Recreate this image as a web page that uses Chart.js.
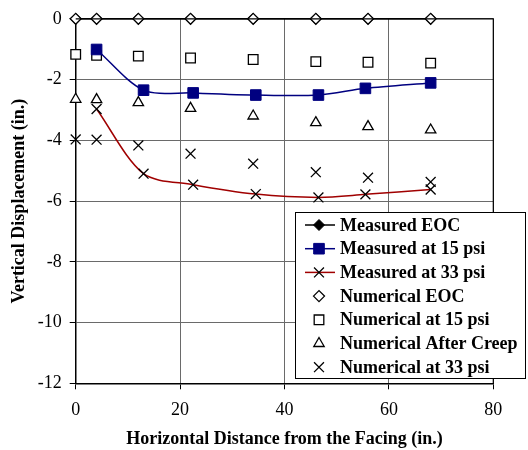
<!DOCTYPE html>
<html>
<head>
<meta charset="utf-8">
<script src="https://cdn.jsdelivr.net/npm/chart.js@4/dist/chart.umd.min.js"></script>
<style>
  html, body { margin: 0; padding: 0; background: #fff; }
  #wrap { width: 528px; height: 450px; position: relative; }
</style>
</head>
<body>
<div id="wrap"><canvas id="chart" width="528" height="450"></canvas></div>
<script>
// x positions (in.)
var numX = [0, 4, 12, 22, 34, 46, 56, 68];
var measX = [4, 13, 22.5, 34.5, 46.5, 55.5, 68];

// vertical displacement (in.)
var measEOC = [0, 0, 0, 0, 0, 0, 0, 0];
var meas15 = [-1.01, -2.35, -2.44, -2.51, -2.51, -2.29, -2.11];
var meas33 = [-2.97, -5.1, -5.46, -5.77, -5.88, -5.78, -5.62];
var numEOC = [0, 0, 0, 0, 0, 0, 0, 0];
var num15 = [-1.17, -1.2, -1.23, -1.29, -1.34, -1.41, -1.43, -1.46];
var numCreep = [-2.65, -2.66, -2.76, -2.95, -3.2, -3.42, -3.55, -3.66];
var num33 = [-3.97, -3.98, -4.17, -4.44, -4.77, -5.05, -5.23, -5.37];

var xTicks = [0, 20, 40, 60, 80];
var yTicks = [0, -2, -4, -6, -8, -10, -12];

var labels = ["Measured EOC", "Measured at 15 psi", "Measured at 33 psi",
  "Numerical EOC", "Numerical at 15 psi", "Numerical After Creep", "Numerical at 33 psi"];

function pts(xs, ys){
  var out = [];
  for (var i = 0; i < ys.length; i++) out.push({x: xs[i], y: ys[i]});
  return out;
}

Chart.defaults.font.family = "'Liberation Serif', 'Times New Roman', serif";
Chart.defaults.color = "#000";

// legend drawn in a box overlapping the plot (as in the original)
var boxLegend = {
  id: 'boxLegend',
  afterDraw: function(chart){
    var ctx = chart.ctx;
    var a = chart.chartArea;
    ctx.save();
    // plot frame
    ctx.strokeStyle = '#000';
    ctx.lineWidth = 1.2;
    ctx.beginPath();
    ctx.moveTo(a.left, a.top); ctx.lineTo(a.right, a.top); ctx.lineTo(a.right, a.bottom);
    ctx.stroke();

    var bx = 295, by = 212, bw = 230, bh = 166;
    ctx.fillStyle = '#fff';
    ctx.fillRect(bx, by, bw, bh);
    ctx.lineWidth = 1;
    ctx.strokeStyle = '#000';
    ctx.strokeRect(bx + 0.5, by + 0.5, bw, bh);

    var rowY = 225, step = 23.7;
    ctx.font = "bold 18px 'Liberation Serif', 'Times New Roman', serif";
    ctx.textBaseline = 'middle';
    chart.data.datasets.forEach(function(ds, i){
      var y = rowY + i * step;
      if (ds.showLine) {
        ctx.strokeStyle = ds.borderColor;
        ctx.lineWidth = 1.5;
        ctx.beginPath();
        ctx.moveTo(305, y);
        ctx.lineTo(335, y);
        ctx.stroke();
      }
      ctx.fillStyle = ds.pointBackgroundColor;
      ctx.strokeStyle = ds.pointBorderColor;
      ctx.lineWidth = ds.pointBorderWidth;
      Chart.helpers.drawPoint(ctx, {pointStyle: ds.pointStyle, radius: ds.pointRadius, borderWidth: ds.pointBorderWidth, rotation: 0}, 319, y);
      ctx.fillStyle = '#000';
      ctx.fillText(labels[i], 340, y + 1);
    });
    ctx.restore();
  }
};

new Chart(document.getElementById("chart"), {
  type: 'scatter',
  data: {
    datasets: [{
        label: labels[0],
        data: pts(numX, measEOC),
        showLine: true,
        borderColor: '#000',
        borderWidth: 1.5,
        pointStyle: 'rectRot',
        pointRadius: 5.5,
        pointBackgroundColor: '#000',
        pointBorderColor: '#000',
        pointBorderWidth: 1,
        clip: false,
        order: 10
      }, {
        label: labels[1],
        data: pts(measX, meas15),
        showLine: true,
        tension: 0.3,
        borderColor: '#000080',
        borderWidth: 1.5,
        pointStyle: 'rect',
        pointRadius: 7.5,
        pointBackgroundColor: '#000080',
        pointBorderColor: '#000080',
        pointBorderWidth: 1,
        clip: false,
        order: 2
      }, {
        label: labels[2],
        data: pts(measX, meas33),
        showLine: true,
        tension: 0.3,
        borderColor: '#a00000',
        borderWidth: 1.5,
        pointStyle: 'crossRot',
        pointRadius: 7,
        pointBackgroundColor: '#000',
        pointBorderColor: '#000',
        pointBorderWidth: 1.3,
        clip: false,
        order: 2
      }, {
        label: labels[3],
        data: pts(numX, numEOC),
        showLine: false,
        pointStyle: 'rectRot',
        pointRadius: 5.5,
        pointBackgroundColor: '#fff',
        pointBorderColor: '#000',
        pointBorderWidth: 1.3,
        clip: false,
        order: 1
      }, {
        label: labels[4],
        data: pts(numX, num15),
        showLine: false,
        pointStyle: 'rect',
        pointRadius: 6.8,
        pointBackgroundColor: '#fff',
        pointBorderColor: '#000',
        pointBorderWidth: 1.3,
        clip: false,
        order: 5
      }, {
        label: labels[5],
        data: pts(numX, numCreep),
        showLine: false,
        pointStyle: 'triangle',
        pointRadius: 6,
        pointBackgroundColor: '#fff',
        pointBorderColor: '#000',
        pointBorderWidth: 1.3,
        clip: false,
        order: 5
      }, {
        label: labels[6],
        data: pts(numX, num33),
        showLine: false,
        pointStyle: 'crossRot',
        pointRadius: 7,
        pointBackgroundColor: '#000',
        pointBorderColor: '#000',
        pointBorderWidth: 1.3,
        clip: false,
        order: 5
      }
    ]
  },
  options: {
    responsive: false,
    animation: false,
    layout: { padding: { left: 0, right: 34.7, top: 17.3, bottom: 0 } },
    plugins: {
      legend: { display: false },
      tooltip: { enabled: false }
    },
    scales: {
      x: {
        type: 'linear',
        min: 0, max: 80,
        afterFit: function(s){ s.height = 66.7; },
        afterBuildTicks: function(s){ s.ticks = xTicks.map(function(v){ return {value: v}; }); },
        grid: { color: '#6a6a6a', lineWidth: 1, tickColor: '#000', tickLength: 6 },
        border: { color: '#000', width: 1.5 },
        ticks: { font: { size: 18 }, padding: 10, color: '#000' },
        title: {
          display: true,
          text: 'Horizontal Distance from the Facing (in.)',
          font: { size: 18, weight: 'bold' },
          padding: { top: 0, bottom: 0 },
          color: '#000'
        }
      },
      y: {
        type: 'linear',
        min: -12, max: 0,
        afterFit: function(s){ s.width = 75.7; },
        afterBuildTicks: function(s){ s.ticks = yTicks.map(function(v){ return {value: v}; }); },
        grid: { color: '#6a6a6a', lineWidth: 1, tickColor: '#000', tickLength: 6 },
        border: { color: '#000', width: 1.5 },
        ticks: { font: { size: 18 }, padding: 8, color: '#000' },
        title: {
          display: true,
          text: 'Vertical Displacement (in.)',
          font: { size: 18, weight: 'bold' },
          padding: { top: 9, bottom: 0 },
          color: '#000'
        }
      }
    }
  },
  plugins: [boxLegend]
});
</script>
</body>
</html>
